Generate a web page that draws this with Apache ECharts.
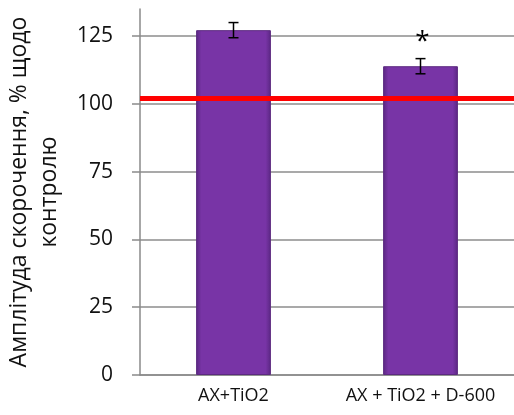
<!DOCTYPE html>
<html>
<head>
<meta charset="utf-8">
<script src="https://cdn.jsdelivr.net/npm/echarts@6/dist/echarts.min.js"></script>
<style>
  html, body { margin: 0; padding: 0; background: #fff; }
  #chart { width: 514px; height: 415px; }
</style>
</head>
<body>
<div id="chart"></div>
<script>
// дані з графіка
var categories = ["AX+TiO2", "AX + TiO2 + D-600"];
var values = [127.2, 113.9];
var errors = [2.8, 2.8];
var marks = ["", "*"];
var controlLevel = 102;
var yTicks = [0, 25, 50, 75, 100, 125];

var chart = echarts.init(document.getElementById("chart"));

var barColor = new echarts.graphic.LinearGradient(0, 0, 1, 0, [
  { offset: 0, color: "#5a2782" },
  { offset: 0.07, color: "#7834a6" },
  { offset: 0.93, color: "#7834a6" },
  { offset: 1, color: "#5a2782" }
]);

// планки похибок + зірочка
function renderError(params, api) {
  var idx = api.value(0);
  var hi = api.coord([idx, api.value(1) + api.value(2)]);
  var lo = api.coord([idx, api.value(1) - api.value(2)]);
  var w = 5;
  var style = { stroke: "#000", lineWidth: 1.5 };
  var children = [
    { type: "line", shape: { x1: hi[0], y1: hi[1], x2: lo[0], y2: lo[1] }, style: style },
    { type: "line", shape: { x1: hi[0] - w, y1: hi[1], x2: hi[0] + w, y2: hi[1] }, style: style },
    { type: "line", shape: { x1: lo[0] - w, y1: lo[1], x2: lo[0] + w, y2: lo[1] }, style: style }
  ];
  var mark = marks[params.dataIndex];
  if (mark) {
    children.push({
      type: "text",
      style: {
        text: mark, x: hi[0] + 2, y: hi[1] - 4,
        fill: "#000", font: "26px 'Open Sans'",
        align: "center", verticalAlign: "bottom"
      }
    });
  }
  return { type: "group", children: children };
}

chart.setOption({
  animation: false,
  textStyle: { fontFamily: "Open Sans" },
  grid: { left: 140, right: 0, top: 9, bottom: 40, outerBoundsMode: "none", containLabel: false },
  xAxis: {
    type: "category",
    data: categories,
    axisLine: { lineStyle: { color: "#8a8a8a", width: 1.5 } },
    axisTick: { length: 6, lineStyle: { color: "#8a8a8a", width: 1.5 } },
    axisLabel: { color: "#111", fontSize: 18, margin: 12, interval: 0, hideOverlap: false }
  },
  yAxis: {
    type: "value",
    min: 0,
    max: 135,
    interval: 25,
    name: "Амплітуда скорочення, % щодо\nконтролю",
    nameLocation: "middle",
    nameGap: 76,
    nameTextStyle: { color: "#111", fontSize: 23, lineHeight: 30 },
    axisLine: { show: true, lineStyle: { color: "#8a8a8a", width: 1.5 } },
    axisTick: { show: true, length: 8, customValues: yTicks, lineStyle: { color: "#8a8a8a", width: 1.5 } },
    axisLabel: { color: "#111", fontSize: 21, margin: 27, customValues: yTicks },
    splitLine: { lineStyle: { color: "#8c8c8c", width: 1.5 } }
  },
  series: [
    {
      type: "bar",
      data: values,
      barWidth: "40%",
      itemStyle: { color: barColor, borderColor: "#5c2a80", borderWidth: 1 },
      markLine: {
        silent: true,
        symbol: "none",
        label: { show: false },
        lineStyle: { color: "#ff0000", width: 5, type: "solid" },
        data: [{ yAxis: controlLevel }]
      },
      z: 2
    },
    {
      type: "custom",
      renderItem: renderError,
      data: values.map(function (v, i) { return [i, v, errors[i]]; }),
      z: 5
    }
  ]
});
</script>
</body>
</html>
